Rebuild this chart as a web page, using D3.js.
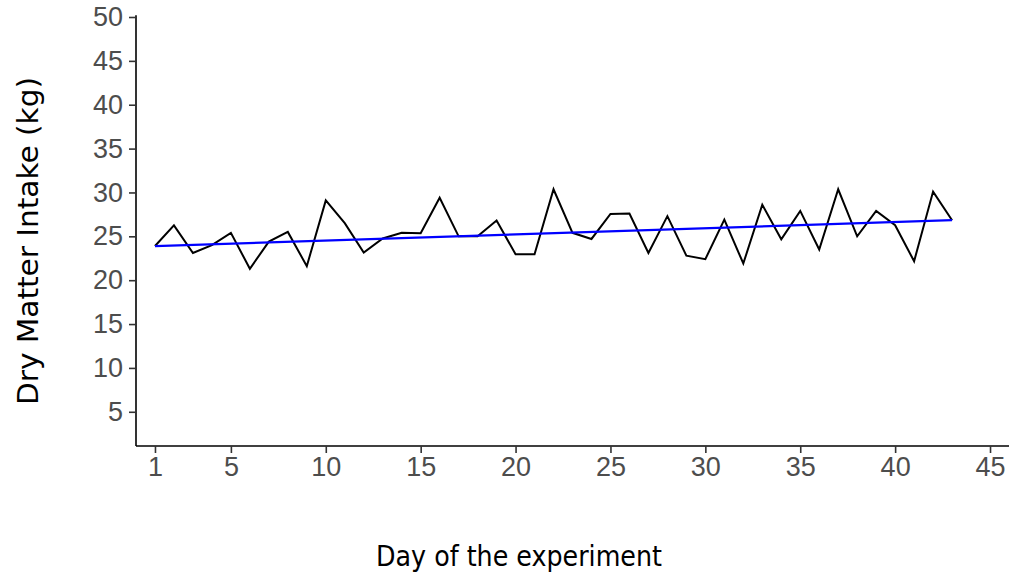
<!DOCTYPE html>
<html lang="en">
<head>
    <meta charset="UTF-8">
    <title>Dry Matter Intake</title>
    <style>
        body { margin: 0; background: #fff; }
        svg { display: block; }
    </style>
</head>
<body>
    <div id="chart"></div>
    <script src="https://d3js.org/d3.v7.min.js"></script>
    <script>
        // daily dry matter intake (kg), days 1..43
        const days = d3.range(1, 44);
        const intake = [23.9, 26.25, 23.1, 24.0, 25.4, 21.3, 24.4, 25.5, 21.6, 29.1,
                        26.5, 23.15, 24.75, 25.4, 25.35, 29.4, 25.0, 25.0, 26.8, 22.96,
                        22.96, 30.36, 25.4, 24.7, 27.55, 27.6, 23.1, 27.3, 22.8, 22.4,
                        26.9, 21.9, 28.6, 24.67, 27.9, 23.5, 30.36, 25.0, 27.9, 26.26,
                        22.16, 30.1, 26.83];
        // linear trend as drawn (day 1 and day 43)
        const fitDays = [1, 43];
        const fitValues = [23.88, 26.84];
        const xTicks = [1, 5, 10, 15, 20, 25, 30, 35, 40, 45];
        const yTicks = [5, 10, 15, 20, 25, 30, 35, 40, 45, 50];

        const width = 1010, height = 576;
        const x = d3.scaleLinear().domain([0, 46]).range([136, 1009]);
        const y = d3.scaleLinear().domain([1.1, 50]).range([446, 17]);

        const svg = d3.select("#chart")
            .append("svg")
            .attr("width", width)
            .attr("height", height);

        const data = days.map((d, i) => ({day: d, v: intake[i]}));
        const fit = fitDays.map((d, i) => ({day: d, v: fitValues[i]}));

        // axes
        const yAxis = svg.append("g")
            .attr("transform", `translate(${x(0)},0)`)
            .call(d3.axisLeft(y).tickValues(yTicks).tickSize(7).tickPadding(6));
        const xAxis = svg.append("g")
            .attr("transform", `translate(0,${y(1.1)})`)
            .call(d3.axisBottom(x).tickValues(xTicks).tickSize(7).tickPadding(4));

        [xAxis, yAxis].forEach(g => {
            g.select(".domain").attr("stroke", "#000").attr("stroke-width", 1.6);
            g.selectAll(".tick line").attr("stroke", "#333").attr("stroke-width", 1.6);
            g.selectAll(".tick text")
                .attr("fill", "#4D4D4D")
                .style("font-family", "Liberation Sans, Arial, sans-serif")
                .style("font-size", "27px");
        });
        xAxis.select(".domain").attr("d", `M${x(0)},0H${x(46)}`);
        yAxis.select(".domain").attr("d", `M0,${y(1.1)}V${y(50.2)}`);

        // data line
        const line = d3.line().x(d => x(d.day)).y(d => y(d.v));
        svg.append("path")
            .datum(data)
            .attr("d", line)
            .attr("fill", "none")
            .attr("stroke", "#000")
            .attr("stroke-width", 2)
            .attr("stroke-linejoin", "miter");

        svg.append("path")
            .datum(fit)
            .attr("d", line)
            .attr("fill", "none")
            .attr("stroke", "#0000FF")
            .attr("stroke-width", 2.2);

        // titles
        svg.append("text")
            .attr("x", 519)
            .attr("y", 566)
            .attr("text-anchor", "middle")
            .attr("textLength", 286)
            .attr("lengthAdjust", "spacingAndGlyphs")
            .style("font-family", "DejaVu Sans Condensed, DejaVu Sans, sans-serif")
            .style("font-size", "28px")
            .text("Day of the experiment");

        svg.append("text")
            .attr("transform", "translate(38,241) rotate(-90)")
            .attr("text-anchor", "middle")
            .attr("textLength", 328)
            .attr("lengthAdjust", "spacingAndGlyphs")
            .style("font-family", "DejaVu Sans Condensed, DejaVu Sans, sans-serif")
            .style("font-size", "28px")
            .text("Dry Matter Intake (kg)");
    </script>
</body>
</html>
